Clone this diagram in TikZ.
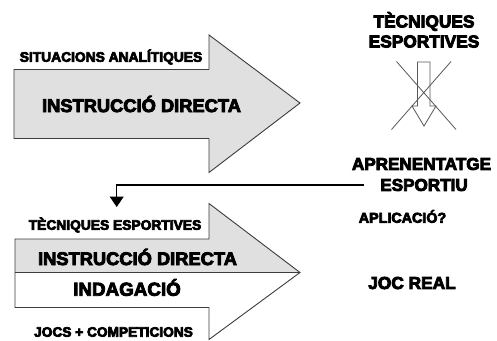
\documentclass[tikz,border=0pt]{standalone}
\usepackage{fontspec}
\setmainfont{Liberation Sans}
\usetikzlibrary{arrows.meta}
\definecolor{arrowfill}{RGB}{224,224,224}
\definecolor{edge}{RGB}{60,60,60}
\newcommand\heavytext[2]{\special{pdf:literal direct 2 Tr #1 w}#2\special{pdf:literal direct 0 Tr}}
\tikzset{
  big/.style={font=\bfseries\fontsize{18.3}{20}\selectfont, inner sep=0pt},
  small/.style={font=\bfseries\fontsize{13.8}{16}\selectfont, inner sep=0pt},
  arrowbody/.style={draw=edge, line width=0.9pt, line join=miter},
  crossline/.style={draw=edge!85, line width=0.8pt},
}
\begin{document}
\begin{tikzpicture}[x=1pt,y=-1pt]
\useasboundingbox (0,0) rectangle (497,340);
\fill[white] (0,0) rectangle (497,340);
% top arrow
\path[arrowbody, fill=arrowfill] (14,69.5) -- (209,69.5) -- (209,35) -- (300,103) -- (209,172.5) -- (209,138.5) -- (14,138.5) -- cycle;
% crossed arrow
\draw[crossline, line join=miter] (417.5,62) -- (430,62) -- (430,106) -- (436,106) -- (424,126) -- (412,106) -- (417.5,106) -- cycle;
\draw[crossline] (396.5,61.5) -- (456,129.5);
\draw[crossline] (451,61.5) -- (391.5,129.5);
% bottom arrow
\fill[arrowfill] (15,239) -- (209,239) -- (209,203.5) -- (300,272.5) -- (15,272.5) -- cycle;
\path[arrowbody] (15,239) -- (209,239) -- (209,203.5) -- (300,272.5) -- (209,339.5) -- (209,307.5) -- (15,307.5) -- cycle;
\draw[edge, line width=0.9pt] (15,272.5) -- (300,272.5);
% texts
\node[small] (sit) at (111,57) {\heavytext{0.7}{SITUACIONS ANALÍTIQUES}};
\node[big] (id1) at (141.5,104) {\heavytext{0.85}{INSTRUCCIÓ DIRECTA}};
\node[big, font=\bfseries\fontsize{17.3}{19}\selectfont] (tec) at (424,21.5) {\heavytext{0.85}{TÈCNIQUES}};
\node[big, font=\bfseries\fontsize{17.3}{19}\selectfont] (esps) at (424,41.5) {\heavytext{0.85}{ESPORTIVES}};
\node[big, font=\bfseries\fontsize{17.1}{19}\selectfont] (apr) at (421.5,164) {\heavytext{0.85}{APRENENTATGE}};
\node[big, font=\bfseries\fontsize{17.1}{19}\selectfont] (espu) at (424,185) {\heavytext{0.85}{ESPORTIU}};
\node[small, font=\bfseries\fontsize{14.3}{16}\selectfont] (apl) at (402.5,216.5) {\heavytext{0.7}{APLICACIÓ?}};
\node[big, font=\bfseries\fontsize{17.3}{19}\selectfont] (joc) at (412,283) {\heavytext{0.85}{JOC REAL}};
\node[small] (tec2) at (115,225) {\heavytext{0.7}{TÈCNIQUES ESPORTIVES}};
\node[big] (id2) at (137.5,257) {\heavytext{0.85}{INSTRUCCIÓ DIRECTA}};
\node[big, font=\bfseries\fontsize{18.8}{21}\selectfont] (ind) at (127,287.5) {\heavytext{0.85}{INDAGACIÓ}};
\node[small, font=\bfseries\fontsize{13.7}{16}\selectfont] (jocs) at (113.5,332) {\heavytext{0.7}{JOCS + COMPETICIONS}};
% connector
\coordinate (down) at (116.7,207);
\draw[black, line width=1.2pt, -{Triangle[width=14pt,length=10.5pt]}] ([xshift=-16pt]espu.west) -| (down);
\end{tikzpicture}
\end{document}
